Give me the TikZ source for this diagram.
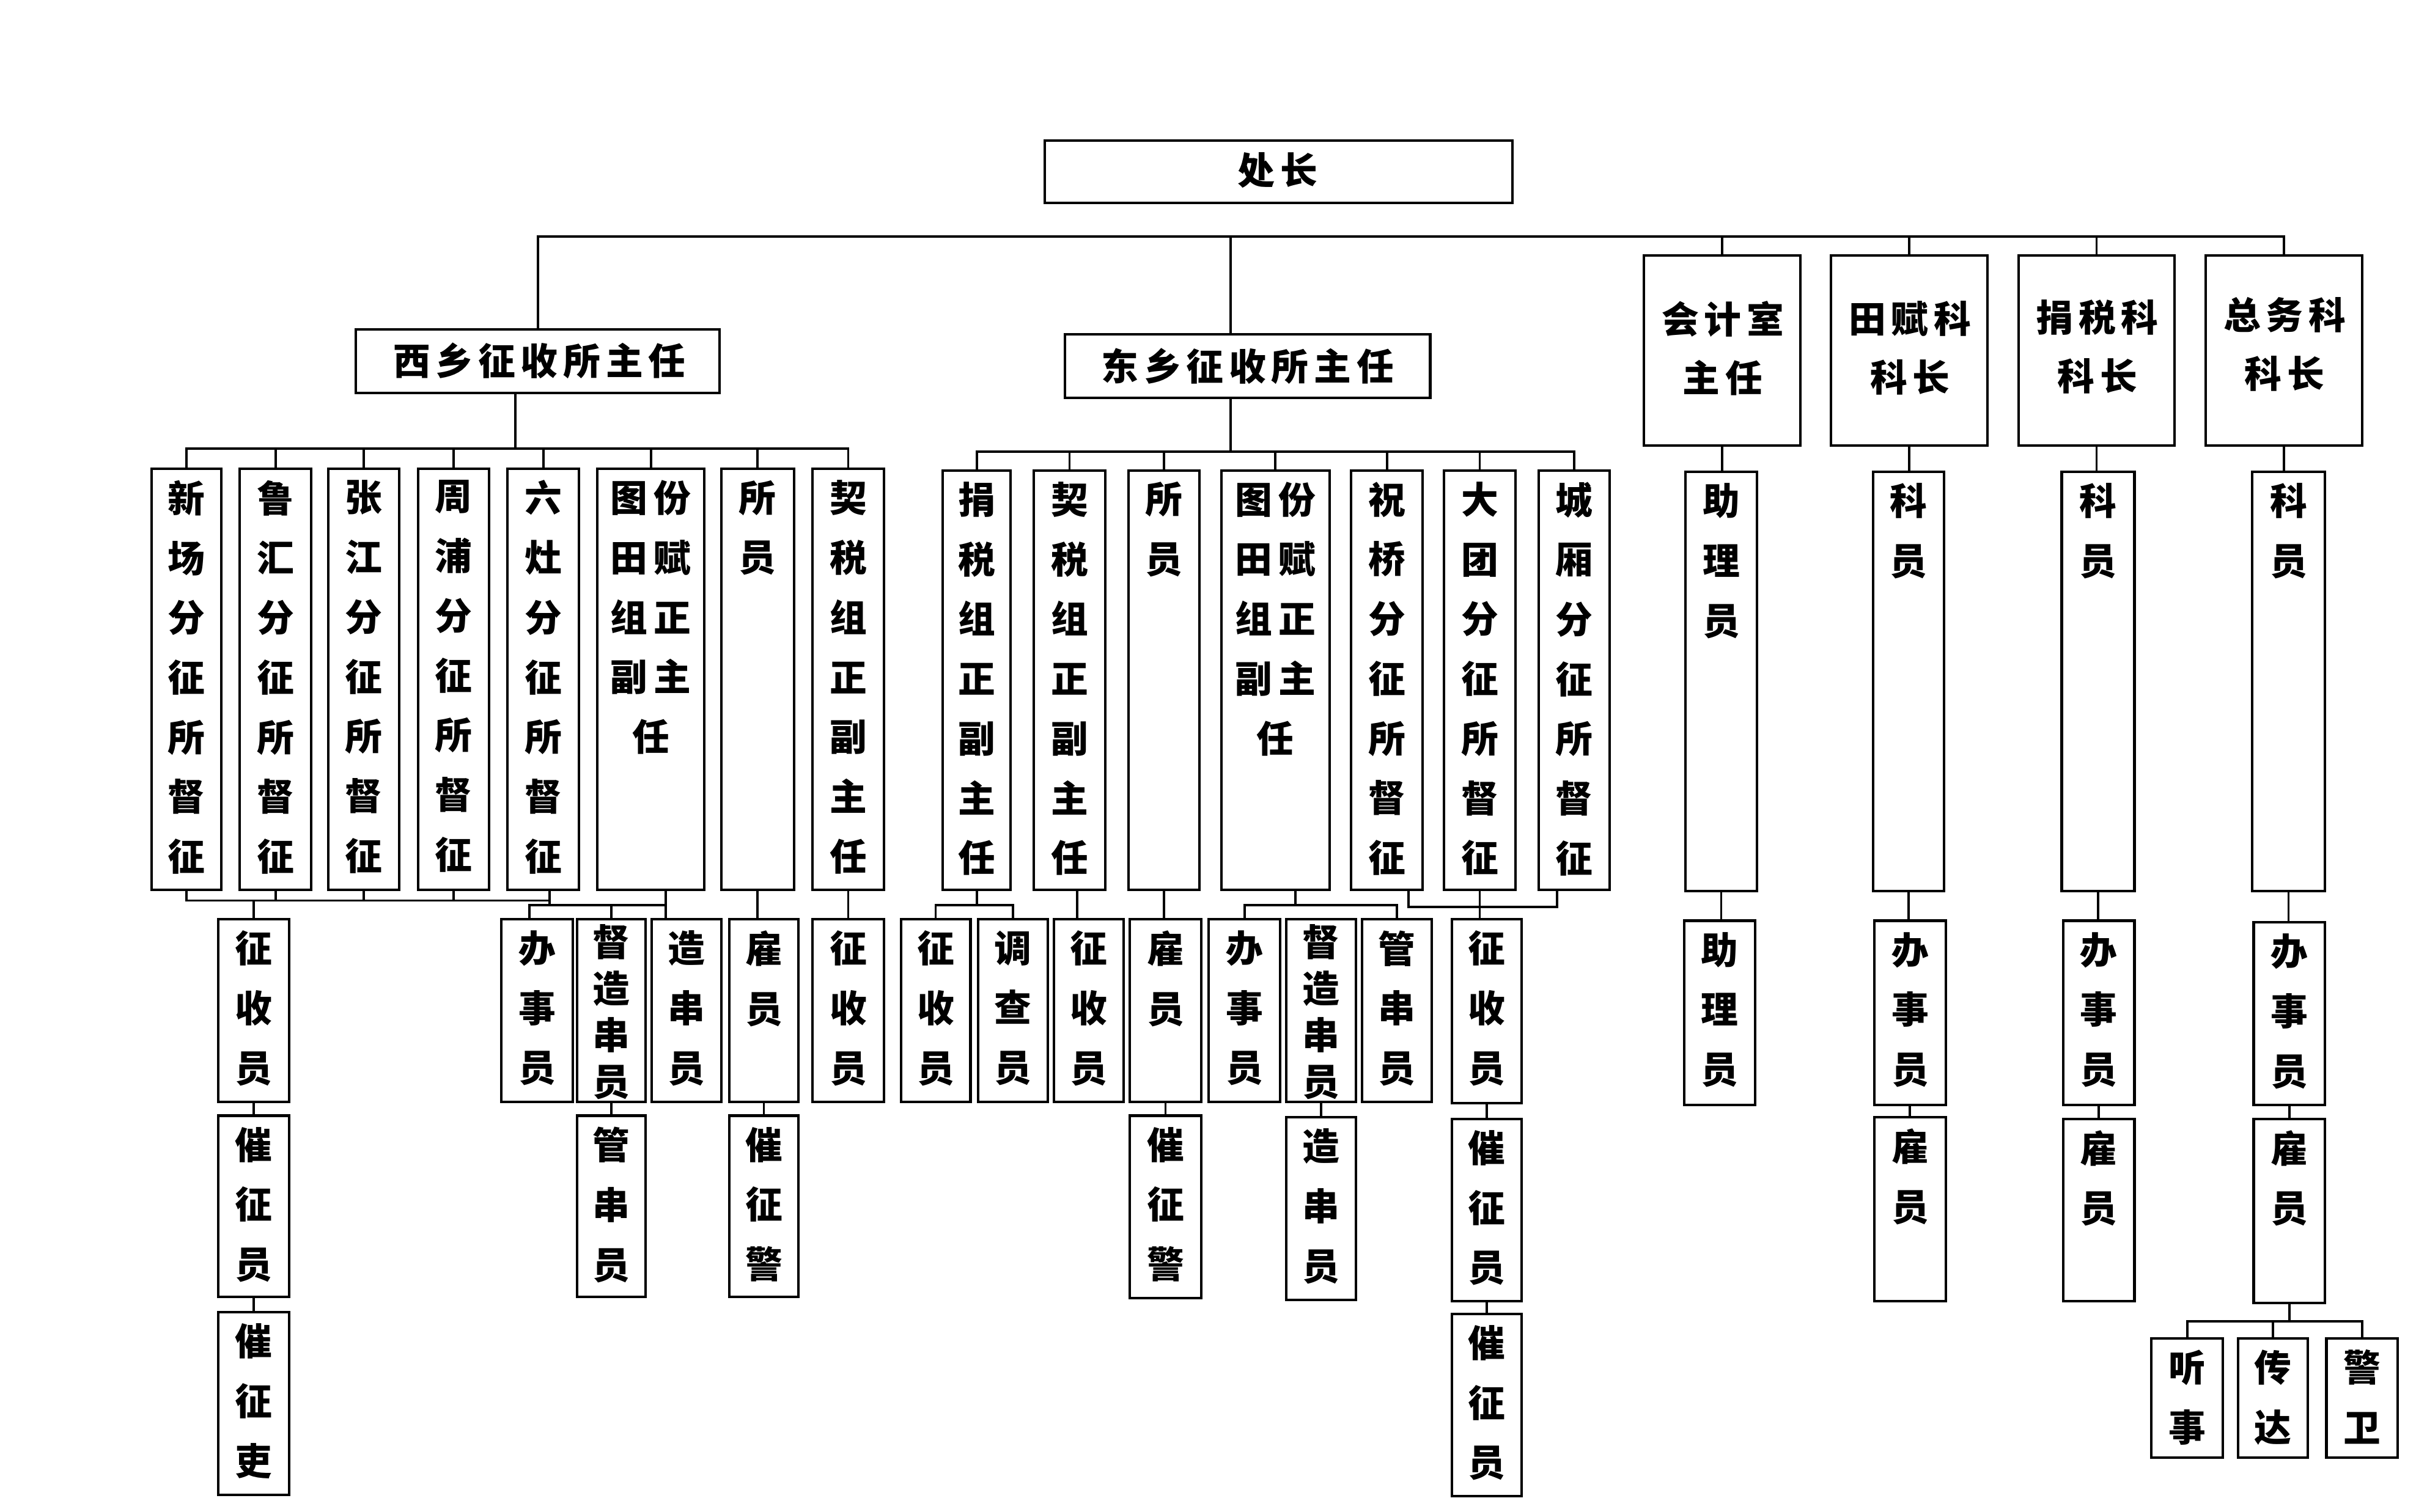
\documentclass[tikz,border=0pt]{standalone}
\usepackage{fontspec}
\setmainfont{Noto Sans CJK SC}
\newcommand\hs{\hspace{3.5pt}}
\newcommand\hst{\hspace{4pt}}
\tikzset{
  x=1pt, y=-1pt,
  box/.style={draw, rectangle, line width=1.6pt, inner sep=0pt},
  ln/.style={line width=1.5pt, line cap=rect},
  vt/.style={font=\fontsize{24}{38.6}\selectfont\bfseries, align=center, inner sep=0pt, anchor=north, yshift=-8pt},
  vtc/.style={font=\fontsize{24}{30}\selectfont\bfseries, align=center, inner sep=0pt, anchor=north, yshift=-4pt},
  ht/.style={font=\fontsize{24}{38}\selectfont\bfseries, align=center, inner sep=0pt}
}
\newcommand\mybox[7]{%
  \node[box, minimum width={(#3-#2)*1pt}, minimum height={(#5-#4)*1pt}] (#1) at ({(#2+#3)/2},{(#4+#5)/2}) {};
  \node[#6] (#1-t) at (#1.north) {#7};
}
\begin{document}
\begin{tikzpicture}
\useasboundingbox[fill=white] (0,0) rectangle (1568,977);

% top level
\node[box, minimum width=302pt, minimum height=40pt] (cz) at (826,111) {};
\node[ht] (cz-t) at (825.5,110) {处\hs 长};
\node[box, minimum width=235pt, minimum height=41pt] (xx) at (347.5,233.5) {};
\node[ht] (xx-t) at (348.5,233) {西\hs 乡\hs 征\hs 收\hs 所\hs 主\hs 任};
\node[box, minimum width=236pt, minimum height=41pt] (dx) at (806,236.5) {};
\node[ht] (dx-t) at (806,236.5) {东\hs 乡\hs 征\hs 收\hs 所\hs 主\hs 任};
\node[box, minimum width=101pt, minimum height=123pt] (kj) at (1112.5,226.5) {};
\node[ht] (kj-t) at (1113,225) {会\hs 计\hs 室\\主\hs 任};
\node[box, minimum width=101pt, minimum height=123pt] (tf) at (1233.5,226.5) {};
\node[ht] (tf-t) at (1234,225) {田\hs 赋\hs 科\\科\hs 长};
\node[box, minimum width=101pt, minimum height=123pt] (js) at (1354.5,226.5) {};
\node[ht] (js-t) at (1355,224) {捐\hs 税\hs 科\\科\hs 长};
\node[box, minimum width=101pt, minimum height=123pt] (zw) at (1475.5,226.5) {};
\node[ht] (zw-t) at (1476,222.5) {总\hs 务\hs 科\\科\hs 长};

% west row
\mybox{w1}{98}{143}{303}{575}{vt}{新\\场\\分\\征\\所\\督\\征}
\mybox{w2}{155}{201}{303}{575}{vt}{鲁\\汇\\分\\征\\所\\督\\征}
\mybox{w3}{212}{258}{303}{575}{vt}{张\\江\\分\\征\\所\\督\\征}
\mybox{w4}{270}{316}{303}{575}{vt}{周\\浦\\分\\征\\所\\督\\征}
\mybox{w5}{328}{374}{303}{575}{vt}{六\\灶\\分\\征\\所\\督\\征}
\mybox{w6}{386}{455}{303}{575}{vt}{图\hst 份\\田\hst 赋\\组\hst 正\\副\hst 主\\任}
\mybox{w7}{466}{513}{303}{575}{vt}{所\\员}
\mybox{w8}{525}{571}{303}{575}{vt}{契\\税\\组\\正\\副\\主\\任}

% west lower
\mybox{wa}{141}{187}{594}{712}{vt}{征\\收\\员}
\mybox{wb}{141}{187}{721}{838}{vt}{催\\征\\员}
\mybox{wc}{141}{187}{848}{966}{vt}{催\\征\\吏}
\mybox{wd}{324}{370}{594}{712}{vt}{办\\事\\员}
\mybox{we}{373}{417}{594}{712}{vtc}{督\\造\\串\\员}
\mybox{wf}{421}{466}{594}{712}{vt}{造\\串\\员}
\mybox{wg}{373}{417}{721}{838}{vt}{管\\串\\员}
\mybox{wh}{471}{516}{594}{712}{vt}{雇\\员}
\mybox{wi}{471}{516}{721}{838}{vt}{催\\征\\警}
\mybox{wj}{525}{571}{594}{712}{vt}{征\\收\\员}

% east row
\mybox{e1}{609}{653}{304}{575}{vt}{捐\\税\\组\\正\\副\\主\\任}
\mybox{e2}{668}{714}{304}{575}{vt}{契\\税\\组\\正\\副\\主\\任}
\mybox{e3}{729}{775}{304}{575}{vt}{所\\员}
\mybox{e4}{789}{859}{304}{575}{vt}{图\hst 份\\田\hst 赋\\组\hst 正\\副\hst 主\\任}
\mybox{e5}{873}{919}{304}{575}{vt}{祝\\桥\\分\\征\\所\\督\\征}
\mybox{e6}{933}{979}{304}{575}{vt}{大\\团\\分\\征\\所\\督\\征}
\mybox{e7}{994}{1040}{304}{575}{vt}{城\\厢\\分\\征\\所\\督\\征}

% east lower
\mybox{ea}{582}{627}{594}{712}{vt}{征\\收\\员}
\mybox{eb}{632}{677}{594}{712}{vt}{调\\查\\员}
\mybox{ec}{681}{726}{594}{712}{vt}{征\\收\\员}
\mybox{ed}{730}{776}{594}{712}{vt}{雇\\员}
\mybox{ee}{730}{776}{721}{839}{vt}{催\\征\\警}
\mybox{ef}{781}{827}{594}{712}{vt}{办\\事\\员}
\mybox{eg}{831}{876}{594}{712}{vtc}{督\\造\\串\\员}
\mybox{eh}{880}{925}{594}{712}{vt}{管\\串\\员}
\mybox{ei}{831}{876}{722}{840}{vt}{造\\串\\员}
\mybox{ej}{938}{983}{594}{713}{vt}{征\\收\\员}
\mybox{ek}{938}{983}{723}{841}{vt}{催\\征\\员}
\mybox{el}{938}{983}{849}{967}{vt}{催\\征\\员}

% right columns
\mybox{kj1}{1089}{1135}{305}{576}{vt}{助\\理\\员}
\mybox{kj2}{1088}{1134}{595}{714}{vt}{助\\理\\员}
\mybox{tf1}{1210}{1256}{305}{576}{vt}{科\\员}
\mybox{tf2}{1211}{1257}{595}{714}{vt}{办\\事\\员}
\mybox{tf3}{1211}{1257}{722}{841}{vt}{雇\\员}
\mybox{js1}{1332}{1379}{305}{576}{vt}{科\\员}
\mybox{js2}{1333}{1379}{595}{714}{vt}{办\\事\\员}
\mybox{js3}{1333}{1379}{723}{841}{vt}{雇\\员}
\mybox{zw1}{1455}{1502}{305}{576}{vt}{科\\员}
\mybox{zw2}{1456}{1502}{596}{714}{vt}{办\\事\\员}
\mybox{zw3}{1456}{1502}{723}{842}{vt}{雇\\员}
\mybox{zz1}{1390}{1436}{865}{942}{vt}{听\\事}
\mybox{zz2}{1446}{1491}{865}{942}{vt}{传\\达}
\mybox{zz3}{1503}{1549}{865}{942}{vt}{警\\卫}

% bus levels
\coordinate (tb) at (0,153);
\coordinate (wbus) at (0,290);
\coordinate (ebus) at (0,292);
\coordinate (busA) at (0,582);
\coordinate (busB) at (0,585);
\coordinate (ebA) at (0,585);
\coordinate (ebB) at (0,586);
\coordinate (zb) at (0,854);

% shifted stub points
\coordinate (dxa) at ([xshift=-11pt]dx.north);
\coordinate (dxb) at ([xshift=-11pt]dx.south);
\coordinate (xxs) at ([xshift=-14.5pt]xx.south);
\coordinate (w5s) at ([xshift=4pt]w5.south);
\coordinate (wds) at ([xshift=-5pt]wd.north);
\coordinate (w6s) at ([xshift=9.5pt]w6.south);
\coordinate (e2s) at ([xshift=5pt]e2.south);
\coordinate (e4s) at ([xshift=13pt]e4.south);
\coordinate (e5s) at ([xshift=14pt]e5.south);
\coordinate (e7s) at ([xshift=-11pt]e7.south);

% top bus
\draw[ln] (xx.north) -- (xx.north |- tb) -- (zw.north |- tb) -- (zw.north);
\draw[ln] (dxa |- tb) -- (dxa);
\draw[ln] (kj.north |- tb) -- (kj.north);
\draw[ln] (tf.north |- tb) -- (tf.north);
\draw[ln] (js.north |- tb) -- (js.north);

% west
\draw[ln] (xxs) -- (xxs |- wbus);
\draw[ln] (w1.north) -- (w1.north |- wbus) -- (w8.north |- wbus) -- (w8.north);
\foreach \n in {w2,w3,w4,w5,w6,w7} \draw[ln] (\n.north) -- (\n.north |- wbus);
\draw[ln] (w1.south) -- (w1.south |- busA) -- (w5s |- busA);
\foreach \n in {w2,w3,w4} \draw[ln] (\n.south) -- (\n.south |- busA);
\draw[ln] (w5s) -- (w5s |- busB);
\draw[ln] (wa.north |- busA) -- (wa.north);
\draw[ln] (wa.south) -- (wb.north);
\draw[ln] (wb.south) -- (wc.north);
\draw[ln] (wds) -- (wds |- busB) -- (w6s |- busB);
\draw[ln] (w6s) -- (w6s |- wf.north);
\draw[ln] (we.north |- busB) -- (we.north);
\draw[ln] (we.south) -- (wg.north);
\draw[ln] (w7.south) -- (w7.south |- wh.north);
\draw[ln] (wh.south) -- (wi.north);
\draw[ln] (w8.south) -- (w8.south |- wj.north);

% east
\draw[ln] (dxb) -- (dxb |- ebus);
\draw[ln] (e1.north) -- (e1.north |- ebus) -- (e7.north |- ebus) -- (e7.north);
\foreach \n in {e2,e3,e4,e5,e6} \draw[ln] (\n.north) -- (\n.north |- ebus);
\draw[ln] (e1.south) -- (e1.south |- ebA);
\draw[ln] (ea.north) -- (ea.north |- ebA) -- (eb.north |- ebA) -- (eb.north);
\draw[ln] (e2s) -- (e2s |- ec.north);
\draw[ln] (e3.south) -- (e3.south |- ed.north);
\draw[ln] (ed.south) -- (ee.north);
\draw[ln] (e4s) -- (e4s |- ebA);
\draw[ln] (ef.north) -- (ef.north |- ebA) -- (eh.north |- ebA) -- (eh.north);
\draw[ln] (eg.south) -- (ei.north);
\draw[ln] (e5s) -- (e5s |- ebB) -- (e7s |- ebB) -- (e7s);
\draw[ln] (e6.south) -- (e6.south |- ej.north);
\draw[ln] (ej.south) -- (ek.north);
\draw[ln] (ek.south) -- (el.north);

% right
\draw[ln] (kj.south) -- (kj.south |- kj1.north);
\draw[ln] (kj1.south) -- (kj1.south |- kj2.north);
\draw[ln] (tf.south) -- (tf.south |- tf1.north);
\draw[ln] (tf1.south) -- (tf1.south |- tf2.north);
\draw[ln] (tf2.south) -- (tf3.north);
\draw[ln] (js.south) -- (js.south |- js1.north);
\draw[ln] (js1.south) -- (js1.south |- js2.north);
\draw[ln] (js2.south) -- (js3.north);
\draw[ln] (zw.south) -- (zw.south |- zw1.north);
\draw[ln] (zw1.south) -- (zw1.south |- zw2.north);
\draw[ln] (zw2.south) -- (zw3.north);
\draw[ln] (zw3.south) -- (zw3.south |- zb);
\draw[ln] (zz1.north) -- (zz1.north |- zb) -- (zz3.north |- zb) -- (zz3.north);
\draw[ln] (zz2.north) -- (zz2.north |- zb);
\end{tikzpicture}
\end{document}
